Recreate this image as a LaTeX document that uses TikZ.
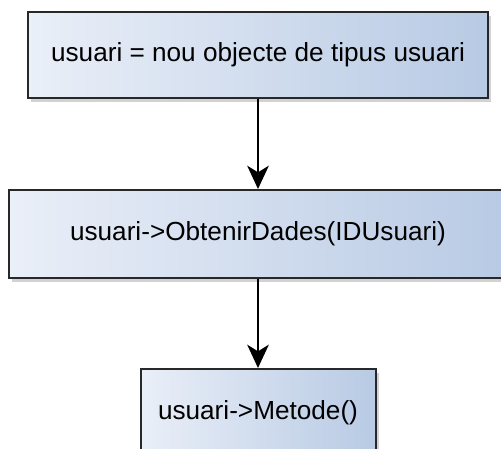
\documentclass[tikz,border=0pt]{standalone}
\usepackage{fontspec}
\setmainfont{Liberation Sans}
\usetikzlibrary{positioning,shadows,arrows.meta}

\definecolor{boxleft}{RGB}{234,239,248}
\definecolor{boxright}{RGB}{184,202,228}
\definecolor{boxline}{RGB}{40,40,40}

\tikzset{
	action/.style={draw=boxline, line width=1.2pt, shading=axis,
		left color=boxleft, right color=boxright, shading angle=90,
		drop shadow={shadow xshift=2pt, shadow yshift=-2.5pt, opacity=0.35},
		inner sep=0pt, font=\fontsize{15.7}{18}\selectfont},
	flow/.style={line width=0.9pt, -{Stealth[length=14pt, width=13pt, inset=4pt]}}
}

\begin{document}
\begin{tikzpicture}

	%Background
	\useasboundingbox (0,0) rectangle (300.6pt,-268.8pt);
	\fill[white] (0,0) rectangle (300.6pt,-268.8pt);

	%Steps
	\node[action, minimum width=276pt, minimum height=51.6pt] (crear) at (154.8pt,-33pt) {usuari = nou objecte de tipus usuari};
	\node[action, minimum width=298.8pt, minimum height=52.8pt, below=54pt of crear] (dades) {usuari->ObtenirDades(IDUsuari)};
	\node[action, minimum width=141pt, minimum height=52.2pt, below=53.4pt of dades] (metode) {usuari->Metode()};

	%Arrows
	\draw[flow] (crear) -- (dades);
	\draw[flow] (dades) -- (metode);

\end{tikzpicture}
\end{document}
